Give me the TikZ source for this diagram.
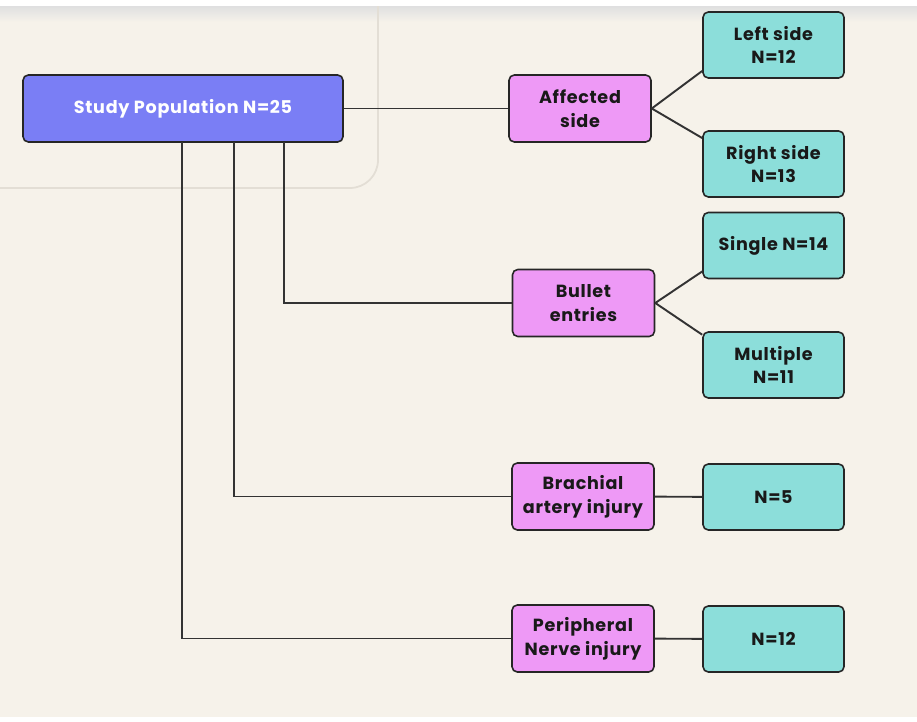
\documentclass[tikz,border=0pt]{standalone}
\usepackage{fontspec}
\setmainfont{Poppins}[LetterSpace=4]
\usepackage{xcolor}
\usetikzlibrary{positioning}
\definecolor{bgcream}{HTML}{F6F2EA}
\definecolor{panelgray}{HTML}{E3DED5}
\definecolor{rootblue}{HTML}{7A7EF5}
\definecolor{groupPink}{HTML}{EE99F6}
\definecolor{leafTeal}{HTML}{8CDEDA}
\definecolor{linegray}{HTML}{333333}

\begin{document}
\begin{tikzpicture}[x=0.02cm,y=-0.02cm]
  \tikzstyle{root} = [fill=rootblue,draw=black!85,text=white,rounded corners=3pt,line width=0.9pt,minimum width=6.4cm,minimum height=1.34cm,font=\fontsize{10}{13.5}\selectfont\bfseries,align=center]
  \tikzstyle{group} = [fill=groupPink,draw=black!85,text=black!90,rounded corners=3pt,line width=0.9pt,minimum width=2.84cm,minimum height=1.34cm,font=\fontsize{10}{13.5}\selectfont\bfseries,align=center]
  \tikzstyle{leaf} = [fill=leafTeal,draw=black!85,text=black!90,rounded corners=3pt,line width=0.9pt,minimum width=2.82cm,minimum height=1.32cm,font=\fontsize{10}{13.5}\selectfont\bfseries,align=center]
  \tikzstyle{link} = [draw=linegray,line width=1.1pt]

  \useasboundingbox (0,0) rectangle (917,722);
  \fill[white] (0,0) rectangle (917,722);
  \fill[bgcream] (0,7) rectangle (917,717);
  \shade[top color=black!12,bottom color=bgcream] (0,7) rectangle (917,22);
  \begin{scope}
   \clip (0,7) rectangle (917,717);
   \draw[panelgray,line width=1pt,rounded corners=0.56cm] (-40,-40) rectangle (378,188);
  \end{scope}

  \node[root] (Study_Pop) at (183,108.5) {Study Population N=25};

  \node[group] (Affected) at (580,108.5) {Affected\\side};
  \node[group] (Bullet) at (583.5,303) {Bullet\\entries};
  \node[group] (Brachial) at (583,496.5) {Brachial\\artery injury};
  \node[group] (Nerve) at (583,638.5) {Peripheral\\Nerve injury};

  \node[leaf] (Side_L) at (773.5,45) {Left side\\N=12};
  \node[leaf] (Side_R) at (773.5,164) {Right side\\N=13};
  \node[leaf] (Entry_S) at (773.5,245.5) {Single N=14};
  \node[leaf] (Entry_M) at (773.5,365) {Multiple\\N=11};
  \node[leaf] (Brachial_N) at (773.5,497) {N=5};
  \node[leaf] (Nerve_N) at (773.5,639) {N=12};

  \coordinate (tap_0) at (284,142);
  \coordinate (tap_1) at (234,142);
  \coordinate (tap_2) at (182,142);

  \draw [link] (Study_Pop) -- (Affected);
  \draw [link] (tap_0) |- (Bullet.west);
  \draw [link] (tap_1) |- (Brachial.west);
  \draw [link] (tap_2) |- (Nerve.west);

  \draw [link] (Affected.east) -- (Side_L.200);
  \draw [link] (Affected.east) -- (Side_R.160);
  \draw [link] (Bullet.east) -- (Entry_S.200);
  \draw [link] (Bullet.east) -- (Entry_M.157);

  \draw [link] (Brachial) -- (Brachial_N);
  \draw [link] (Nerve) -- (Nerve_N);
 \end{tikzpicture}
\end{document}
